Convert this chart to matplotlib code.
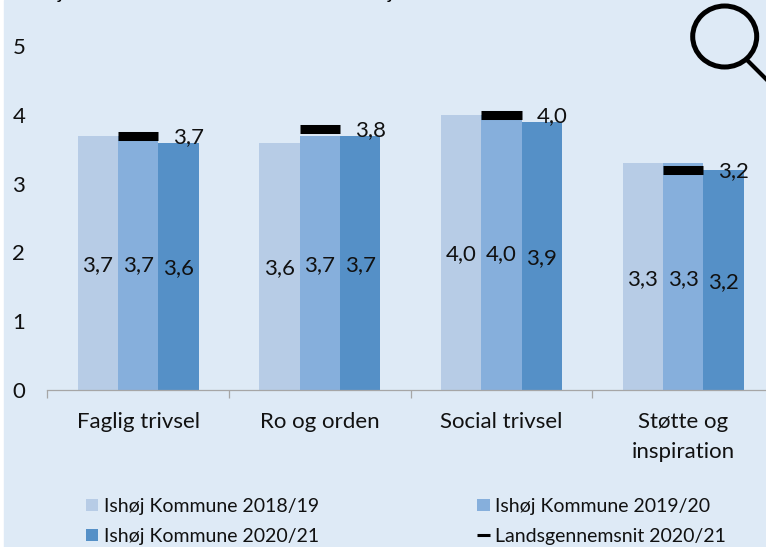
import numpy as np
import matplotlib
matplotlib.use('Agg')
import matplotlib.pyplot as plt
from matplotlib.patches import Ellipse, Rectangle, Patch
from matplotlib.lines import Line2D

plt.rcParams['font.family'] = ['Lato', 'DejaVu Sans']

categories = ['Faglig trivsel', 'Ro og orden', 'Social trivsel', 'Støtte og\ninspiration']
y_2018 = [3.7, 3.6, 4.0, 3.3]
y_2019 = [3.7, 3.7, 4.0, 3.3]
y_2020 = [3.6, 3.7, 3.9, 3.2]
y_land = [3.7, 3.8, 4.0, 3.2]
series_labels = ['Ishøj Kommune 2018/19', 'Ishøj Kommune 2019/20',
                 'Ishøj Kommune 2020/21', 'Landsgennemsnit 2020/21']

BG = '#deeaf6'
colors = ['#b7cce6', '#86afdc', '#5590c7']
W, H = 766, 547


def fmt(v):
    return ('%.1f' % v).replace('.', ',')


fig = plt.figure(figsize=(W / 100, H / 100), dpi=100, facecolor='white')
fig.add_artist(Rectangle((4 / W, 0), 1, 1, transform=fig.transFigure, color=BG, zorder=-5))

ax = fig.add_axes([47.4 / W, 1 - 390 / H, (774 - 47.4) / W, 343.75 / H])
ax.patch.set_alpha(0)

x = np.arange(len(categories))
bw = 1 / 4.5
for i, vals in enumerate([y_2018, y_2019, y_2020]):
    pos = x + (i - 1) * bw
    ax.bar(pos, vals, bw, color=colors[i], linewidth=0)
    for px, v in zip(pos, vals):
        ax.text(px, v / 2 - 0.03, fmt(v), ha='center', va='center', fontsize=16, color='#111111')

# national average as thick dash over the middle bar
ax.hlines(y_land, x - bw / 2, x + bw / 2, color='black', lw=6.5, capstyle='butt', zorder=3)
for px, v in zip(x, y_land):
    ax.annotate(fmt(v), (px, v), xytext=(36.5, -1), textcoords='offset points',
                ha='center', va='center', fontsize=16, color='#111111', zorder=4)

ax.set_xlim(-0.5, 3.5)
ax.set_ylim(0, 5)
ax.set_yticks(range(6))
ax.tick_params(axis='y', length=0, pad=16, labelsize=16, labelcolor='#111111')
ax.set_xticks(x)
ax.set_xticklabels(categories, fontsize=16, color='#111111', linespacing=1.6)
ax.set_xticks(np.arange(-0.5, 4), minor=True)
ax.tick_params(axis='x', which='major', length=0, pad=16)
ax.tick_params(axis='x', which='minor', length=5.8, width=0.9, color='#a6a6a6')
for s in ['top', 'left', 'right']:
    ax.spines[s].set_visible(False)
ax.spines['bottom'].set_color('#a6a6a6')
ax.spines['bottom'].set_linewidth(0.9)

# legend, column first so the order comes out as in the picture
handles = [Patch(color=colors[0], lw=0), Patch(color=colors[2], lw=0),
           Patch(color=colors[1], lw=0),
           Line2D([0], [0], color='black', lw=2.2, solid_capstyle='butt')]
labels = [series_labels[0], series_labels[2], series_labels[1], series_labels[3]]
fig.legend(handles, labels, ncols=2, frameon=False, fontsize=14, loc='lower left',
           bbox_to_anchor=(86 / W, 1 - 545 / H), borderaxespad=0, borderpad=0,
           handlelength=0.62, handleheight=0.62, handletextpad=0.3, columnspacing=8.15,
           labelspacing=0.68, labelcolor='#111111')

# overlay in pixel coordinates for the magnifier and the cut off title
ov = fig.add_axes([0, 0, 1, 1])
ov.set_xlim(0, W)
ov.set_ylim(H, 0)
ov.axis('off')
ov.add_patch(Ellipse((724.7, 36.5), 64, 61, fill=False, ec='black', lw=3.6))
ov.plot([747, 768], [60, 81], color='black', lw=3)
ov.text(60, -1, 'j', fontsize=14, va='baseline', ha='center', color='black')
ov.text(390, -1, 'j', fontsize=14, va='baseline', ha='center', color='black')

fig.savefig('out.png', dpi=100)
